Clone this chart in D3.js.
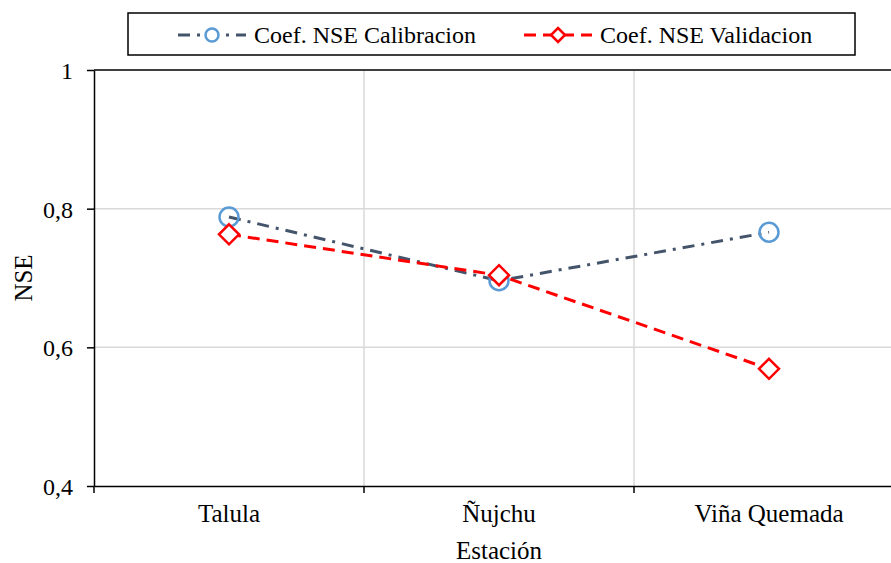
<!DOCTYPE html>
<html>
<head>
<meta charset="utf-8">
<script src="https://cdn.jsdelivr.net/npm/d3@7"></script>
<style>
  html, body { margin: 0; padding: 0; background: #fff; }
  svg { display: block; }
  svg text { font-family: "Liberation Serif", "Times New Roman", serif; fill: #000; }
</style>
</head>
<body>
<svg id="chart" width="891" height="563"></svg>
<script>
// Stations and Nash–Sutcliffe efficiency per period
const stations = ["Talula", "Ñujchu", "Viña Quemada"];
const nseCalibracion = [0.788, 0.696, 0.766];
const nseValidacion = [0.763, 0.704, 0.569];
const yTicks = [0.4, 0.6, 0.8, 1];
const seriesNames = ["Coef. NSE Calibracion", "Coef. NSE Validacion"];

const svg = d3.select("#chart");
const plotLeft = 94, plotTop = 70, plotBottom = 486, bandW = 270;

const x = d3.scaleBand().domain(stations).range([plotLeft, plotLeft + bandW * stations.length]).paddingInner(0).paddingOuter(0);
const y = d3.scaleLinear().domain([0.4, 1]).range([plotBottom, plotTop]);
const fmt = d => d === 1 ? "1" : d3.format(".1f")(d).replace(".", ",");

// gridlines
const grid = svg.append("g");
grid.selectAll("line.h").data(yTicks.filter(t => t > 0.4 && t < 1)).enter().append("line")
  .attr("x1", plotLeft).attr("x2", 891).attr("y1", d => y(d)).attr("y2", d => y(d))
  .attr("stroke", "#d9d9d9").attr("stroke-width", 1.5);
grid.selectAll("line.v").data(stations.slice(1)).enter().append("line")
  .attr("x1", d => x(d)).attr("x2", d => x(d)).attr("y1", plotTop).attr("y2", plotBottom)
  .attr("stroke", "#d9d9d9").attr("stroke-width", 1.5);

// top border
svg.append("line").attr("x1", plotLeft).attr("x2", 891).attr("y1", plotTop).attr("y2", plotTop)
  .attr("stroke", "#000").attr("stroke-width", 1.5);

// y axis
const yAxis = svg.append("g").attr("transform", `translate(${plotLeft},0)`)
  .call(d3.axisLeft(y).tickValues(yTicks).tickFormat(fmt).tickSize(7).tickSizeOuter(0))
  .attr("font-family", null).attr("font-size", 24);
yAxis.select(".domain").attr("stroke", "#000").attr("stroke-width", 1.5);
yAxis.selectAll(".tick line").attr("stroke", "#000").attr("stroke-width", 1.5);
yAxis.selectAll(".tick text").attr("x", -21).attr("dy", "0.36em");

// x axis
const xAxis = svg.append("g").attr("transform", `translate(0,${plotBottom})`)
  .call(d3.axisBottom(x).tickSize(0).tickSizeOuter(0))
  .attr("font-family", null).attr("font-size", 25);
xAxis.select(".domain").attr("stroke", "#000").attr("stroke-width", 1.5);
xAxis.selectAll(".tick text").attr("y", 36).attr("dy", null);
svg.append("g").selectAll("line").data(stations).enter().append("line")
  .attr("x1", d => x(d)).attr("x2", d => x(d)).attr("y1", plotBottom).attr("y2", plotBottom + 7)
  .attr("stroke", "#000").attr("stroke-width", 1.5);

// axis titles
svg.append("text").attr("x", 499).attr("y", 559).attr("text-anchor", "middle")
  .attr("font-size", 25).text("Estación");
svg.append("text").attr("transform", "translate(32,278) rotate(-90)").attr("text-anchor", "middle")
  .attr("font-size", 25).text("NSE");

const cx = d => x(d) + x.bandwidth() / 2;
const line = d3.line().x(d => cx(d.s)).y(d => y(d.v));
const calib = stations.map((s, i) => ({ s, v: nseCalibracion[i] }));
const valid = stations.map((s, i) => ({ s, v: nseValidacion[i] }));

const calibColor = "#44546a", calibMarker = "#5b9bd5", validColor = "#ff0000";
const calibDash = "12,7,3,7", validDash = "12,7";

svg.append("path").datum(calib).attr("d", line).attr("fill", "none")
  .attr("stroke", calibColor).attr("stroke-width", 3).attr("stroke-dasharray", calibDash);
svg.append("path").datum(valid).attr("d", line).attr("fill", "none")
  .attr("stroke", validColor).attr("stroke-width", 3).attr("stroke-dasharray", validDash);

const diamond = (r) => `M0,${-r}L${r},0L0,${r}L${-r},0Z`;

svg.append("g").selectAll("circle").data(calib).enter().append("circle")
  .attr("cx", d => cx(d.s)).attr("cy", d => y(d.v)).attr("r", 9.5)
  .attr("fill", "none").attr("stroke", calibMarker).attr("stroke-width", 2.5);
svg.append("g").selectAll("path").data(valid).enter().append("path")
  .attr("transform", d => `translate(${cx(d.s)},${y(d.v)})`).attr("d", diamond(10))
  .attr("fill", "#fff").attr("stroke", validColor).attr("stroke-width", 2.5);

// legend
const lg = svg.append("g");
lg.append("rect").attr("x", 128).attr("y", 13).attr("width", 727).attr("height", 42)
  .attr("fill", "#fff").attr("stroke", "#000").attr("stroke-width", 1.5);
const items = [
  { name: seriesNames[0], x0: 178, tx: 254, color: calibColor, dash: calibDash, mk: "c" },
  { name: seriesNames[1], x0: 524, tx: 600, color: validColor, dash: validDash, mk: "d" }
];
items.forEach(it => {
  const ly = 35;
  lg.append("line").attr("x1", it.x0).attr("x2", it.x0 + 68).attr("y1", ly).attr("y2", ly)
    .attr("stroke", it.color).attr("stroke-width", 3).attr("stroke-dasharray", it.dash);
  if (it.mk === "c") {
    lg.append("circle").attr("cx", it.x0 + 34).attr("cy", ly).attr("r", 6.5)
      .attr("fill", "#fff").attr("stroke", calibMarker).attr("stroke-width", 2.5);
  } else {
    lg.append("path").attr("transform", `translate(${it.x0 + 34},${ly})`).attr("d", diamond(7))
      .attr("fill", "#fff").attr("stroke", validColor).attr("stroke-width", 2.5);
  }
  lg.append("text").attr("x", it.tx).attr("y", 43).attr("font-size", 24).text(it.name);
});
</script>
</body>
</html>
